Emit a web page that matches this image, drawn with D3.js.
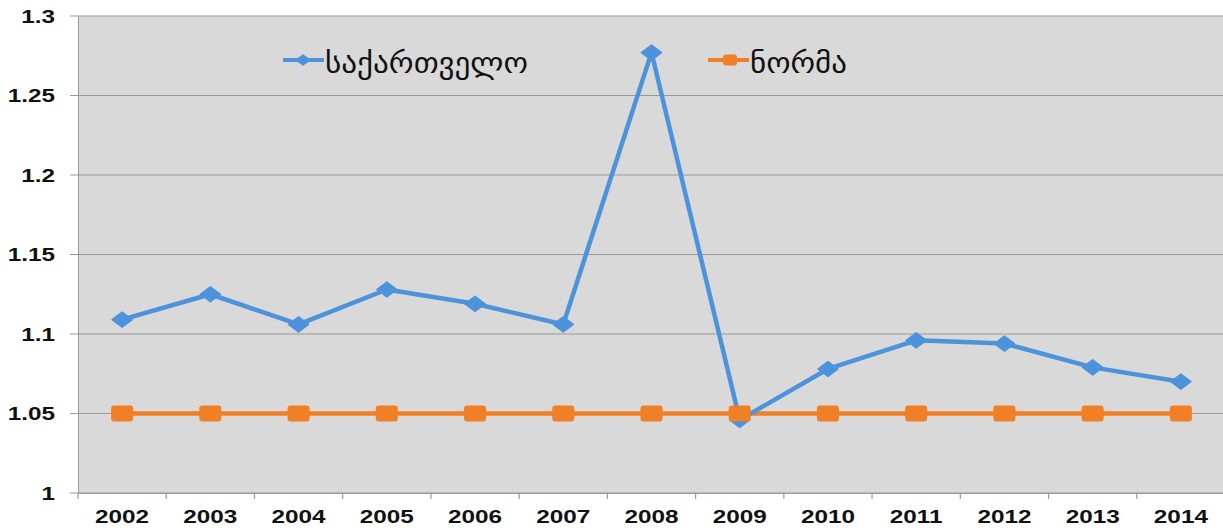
<!DOCTYPE html>
<html><head><meta charset="utf-8">
<script src="https://cdn.jsdelivr.net/npm/d3@7"></script>
<style>body{margin:0;background:#fff;}svg{display:block;}</style>
</head><body>
<svg id="c" width="1223" height="528"></svg>
<script>
const years = ["2002","2003","2004","2005","2006","2007","2008","2009","2010","2011","2012","2013","2014"];
const georgia = [1.109,1.125,1.106,1.128,1.119,1.106,1.277,1.046,1.078,1.096,1.094,1.079,1.070];
const norm = [1.05,1.05,1.05,1.05,1.05,1.05,1.05,1.05,1.05,1.05,1.05,1.05,1.05];
const yTicks = [1,1.05,1.1,1.15,1.2,1.25,1.3];
const seriesNames = ["საქართველო","ნორმა"];
const colors = ["#4d93dc","#f07f26"];

const svg = d3.select("#c");
const L = 78, R = 1225, T = 16, B = 493;
const SX = 1.35;
const x = d3.scaleBand().domain(years).range([L, R]);
const y = d3.scaleLinear().domain([1, 1.3]).range([B, T]);

svg.append("rect").attr("x", L).attr("y", T).attr("width", R - L).attr("height", B - T).attr("fill", "#d9d9d9");

// gridlines
svg.append("g").selectAll("line").data(yTicks).join("line")
  .attr("x1", 70).attr("x2", R).attr("y1", d => y(d)).attr("y2", d => y(d))
  .attr("stroke", "#9a9a9a").attr("stroke-width", 1.2);

// y axis
const yAxis = d3.axisLeft(y).tickValues(yTicks).tickFormat(d => String(+d.toFixed(2))).tickSize(0).tickPadding(0);
const ya = svg.append("g").attr("transform", `translate(${L},0)`).call(yAxis);
ya.select(".domain").attr("stroke", "#9a9a9a");
ya.selectAll("text").attr("x", -23 / SX).attr("dy", "0.36em").attr("transform", `scale(${SX},1)`)
  .attr("font-family", "Liberation Sans, Arial, sans-serif").attr("font-weight", "bold").attr("font-size", 18).attr("fill", "#111");

// x axis
const xAxis = d3.axisBottom(x).tickSize(0).tickPadding(0);
const xa = svg.append("g").attr("transform", `translate(0,${B})`).call(xAxis);
xa.select(".domain").attr("stroke", "#9a9a9a");
xa.selectAll("text").attr("y", 30).attr("dy", 0).attr("transform", `scale(${SX},1)`)
  .attr("font-family", "Liberation Sans, Arial, sans-serif").attr("font-weight", "bold").attr("font-size", 18).attr("fill", "#111");
// category separator ticks
xa.append("g").selectAll("line").data(d3.range(years.length + 1)).join("line")
  .attr("x1", i => L + i * x.step()).attr("x2", i => L + i * x.step())
  .attr("y1", 0).attr("y2", 6).attr("stroke", "#9a9a9a").attr("stroke-width", 1.2);

const cx = d => x(d) + x.bandwidth() / 2;
const line = d3.line().x(d => cx(d[0])).y(d => y(d[1]));

function diamond(g, px, py, w, h, col) {
  g.append("path").attr("d", `M${px},${py - h}L${px + w},${py}L${px},${py + h}L${px - w},${py}Z`)
    .attr("fill", col).attr("stroke", col).attr("stroke-width", 1.5).attr("stroke-linejoin", "round");
}
function square(g, px, py, w, h, col) {
  g.append("rect").attr("x", px - w / 2).attr("y", py - h / 2).attr("width", w).attr("height", h).attr("rx", 3).attr("fill", col);
}

// norm series line
svg.append("path").datum(years.map((d, i) => [d, norm[i]])).attr("d", line).attr("fill", "none").attr("stroke", colors[1]).attr("stroke-width", 4.5);

// georgia series
const gg = svg.append("g");
gg.append("path").datum(years.map((d, i) => [d, georgia[i]])).attr("d", line).attr("fill", "none").attr("stroke", colors[0]).attr("stroke-width", 4.5).attr("stroke-linejoin", "round");
years.forEach((d, i) => diamond(gg, cx(d), y(georgia[i]), 10, 7.5, colors[0]));
const gnm = svg.append("g");
years.forEach((d, i) => square(gnm, cx(d), y(norm[i]), 22, 16, colors[1]));

// legend
const lg = svg.append("g");
lg.append("line").attr("x1", 283).attr("x2", 324).attr("y1", 60).attr("y2", 60).attr("stroke", colors[0]).attr("stroke-width", 4);
diamond(lg, 303, 60, 7, 5, colors[0]);
lg.append("text").attr("x", 325).attr("y", 73).text(seriesNames[0])
  .attr("textLength", 203).attr("lengthAdjust", "spacingAndGlyphs")
  .attr("font-family", "DejaVu Sans, sans-serif").attr("font-size", 29).attr("fill", "#111");
lg.append("line").attr("x1", 708).attr("x2", 749).attr("y1", 60).attr("y2", 60).attr("stroke", colors[1]).attr("stroke-width", 4);
square(lg, 730, 60, 14, 11, colors[1]);
lg.append("text").attr("x", 750).attr("y", 73).text(seriesNames[1])
  .attr("textLength", 97).attr("lengthAdjust", "spacingAndGlyphs")
  .attr("font-family", "DejaVu Sans, sans-serif").attr("font-size", 29).attr("fill", "#111");
</script>
</body></html>
